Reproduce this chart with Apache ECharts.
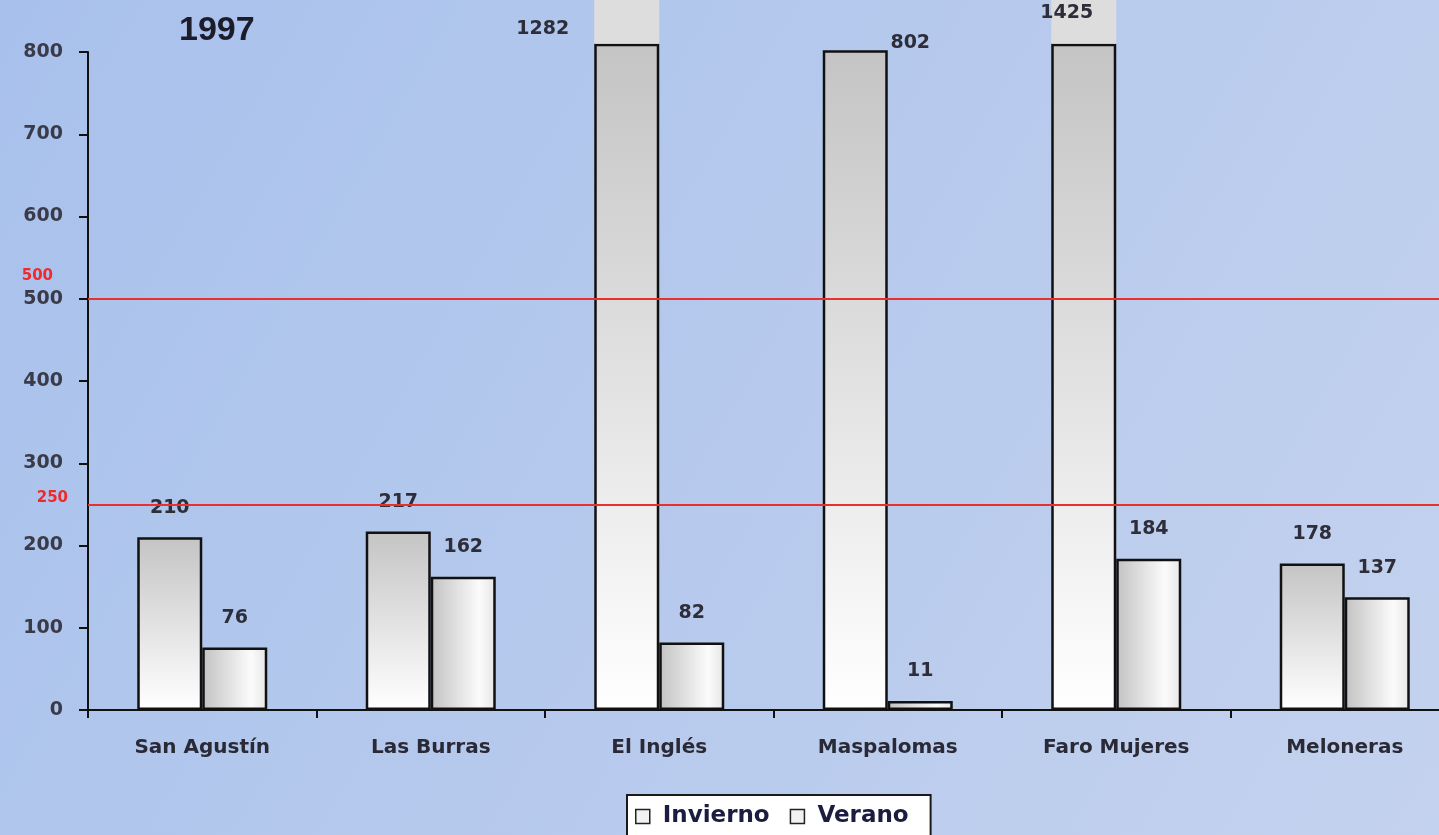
<!DOCTYPE html>
<html>
<head>
<meta charset="utf-8">
<title>1997</title>
<script src="https://cdn.jsdelivr.net/npm/echarts@6/dist/echarts.min.js"></script>
<style>
  html, body { margin: 0; padding: 0; }
  #chart { width: 1439px; height: 835px; }
</style>
</head>
<body>
<div id="chart"></div>
<script>
// Beaches and yearly counts
const categories = ['San Agustín', 'Las Burras', 'El Inglés', 'Maspalomas', 'Faro Mujeres', 'Meloneras'];
const invierno = [210, 217, 1282, 802, 1425, 178];
const verano = [76, 162, 82, 11, 184, 137];
const guideLines = [500, 250];
const yMax = 800;
const yStep = 100;

// Bars taller than the axis are drawn broken just above the top tick
const BREAK_AT = 810;
const invBase = invierno.map(v => Math.min(v, BREAK_AT));
const invOver = invierno.map(v => (v > BREAK_AT ? v - BREAK_AT : '-'));

// Per-bar nudges for the winter value labels
const invLabelShift = [[0, 0], [0, 0], [-84, 15], [55, 22], [-17, -1], [0, 0]];

const VALUE_FONT = 'DejaVu Sans';
const valueLabel = {
  show: true,
  position: 'top',
  distance: 20,
  color: '#2e2e3a',
  fontFamily: VALUE_FONT,
  fontWeight: 'bold',
  fontSize: 19
};

const invGradient = new echarts.graphic.LinearGradient(0, 0, 0, 1, [
  { offset: 0, color: '#c4c4c4' },
  { offset: 1, color: '#ffffff' }
]);
const verGradient = new echarts.graphic.LinearGradient(0, 0, 1, 0, [
  { offset: 0, color: '#c2c2c2' },
  { offset: 0.75, color: '#fbfbfb' },
  { offset: 1, color: '#e6e6e6' }
]);

// Red guide labels sit above their line (first line of a multi-line block)
const guideLabel = (value, lines, lineHeight, distance) => ({
  show: true,
  position: 'start',
  distance: distance,
  formatter: String(value) + '\n'.repeat(lines),
  lineHeight: lineHeight,
  color: '#f02a2a',
  fontFamily: 'DejaVu Sans',
  fontWeight: 'bold',
  fontSize: 15
});

const chart = echarts.init(document.getElementById('chart'));

chart.setOption({
  animation: false,
  backgroundColor: new echarts.graphic.LinearGradient(0, 0, 1, 1, [
    { offset: 0, color: '#a8c1ec' },
    { offset: 1, color: '#c4d2ee' }
  ]),
  title: {
    text: '1997',
    left: 174,
    top: 9,
    textStyle: {
      fontFamily: 'Liberation Sans',
      fontWeight: 'bold',
      fontSize: 34,
      color: '#1c1c2a'
    }
  },
  legend: {
    data: ['Invierno', 'Verano'],
    left: 627,
    top: 795,
    icon: 'rect',
    itemWidth: 14,
    itemHeight: 14,
    itemGap: 20,
    padding: [10, 22, 20, 8],
    backgroundColor: '#ffffff',
    borderColor: '#1a1a1a',
    borderWidth: 2,
    borderRadius: 0,
    itemStyle: { color: '#f2f2f2', borderColor: '#222222', borderWidth: 1.5 },
    textStyle: {
      fontFamily: 'DejaVu Sans',
      fontWeight: 'bold',
      fontSize: 23,
      color: '#1c1c40',
      padding: [0, 0, 0, 8]
    }
  },
  // plot runs past the right edge of the canvas
  grid: { left: 88, width: 1371, top: 52, bottom: 125, containLabel: false, outerBoundsMode: 'none' },
  xAxis: {
    type: 'category',
    data: categories,
    boundaryGap: true,
    axisLine: { lineStyle: { color: '#111111', width: 2 } },
    axisTick: { show: true, length: 8, interval: 0, alignWithLabel: false, lineStyle: { color: '#111111', width: 2 } },
    axisLabel: {
      interval: 0,
      margin: 28,
      color: '#2a2a36',
      fontFamily: 'DejaVu Sans',
      fontWeight: 'bold',
      fontSize: 20
    },
    splitLine: { show: false }
  },
  yAxis: {
    type: 'value',
    min: 0,
    max: yMax,
    interval: yStep,
    axisLine: { show: true, lineStyle: { color: '#111111', width: 2 } },
    axisTick: { show: true, length: 9, lineStyle: { color: '#111111', width: 2 } },
    axisLabel: {
      margin: 25,
      color: '#3a3a48',
      fontFamily: 'DejaVu Sans',
      fontWeight: 'bold',
      fontSize: 19
    },
    splitLine: { show: false }
  },
  series: [
    {
      name: 'Invierno',
      type: 'bar',
      stack: 'inv',
      barWidth: 65,
      barGap: '0%',
      clip: false,
      data: invBase.map((v, i) => ({
        value: v,
        label: { offset: invLabelShift[i] }
      })),
      itemStyle: { color: invGradient, borderColor: '#111111', borderWidth: 2.5 },
      label: Object.assign({}, valueLabel, {
        formatter: p => String(invierno[p.dataIndex])
      })
    },
    {
      name: 'Invierno',
      type: 'bar',
      stack: 'inv',
      barWidth: 65,
      barGap: '0%',
      clip: false,
      data: invOver,
      itemStyle: { color: '#dddddd', borderColor: '#dddddd', borderWidth: 3 },
      label: { show: false }
    },
    {
      name: 'Verano',
      type: 'bar',
      barWidth: 65,
      barGap: '0%',
      clip: false,
      data: verano,
      itemStyle: { color: verGradient, borderColor: '#111111', borderWidth: 2.5 },
      label: valueLabel,
      markLine: {
        silent: true,
        symbol: 'none',
        lineStyle: { color: '#e8302c', width: 2, type: 'solid' },
        data: [
          { yAxis: guideLines[0], label: guideLabel(guideLines[0], 2, 23, 35) },
          { yAxis: guideLines[1], label: guideLabel(guideLines[1], 1, 12, 20) }
        ]
      }
    }
  ]
});
</script>
</body>
</html>
